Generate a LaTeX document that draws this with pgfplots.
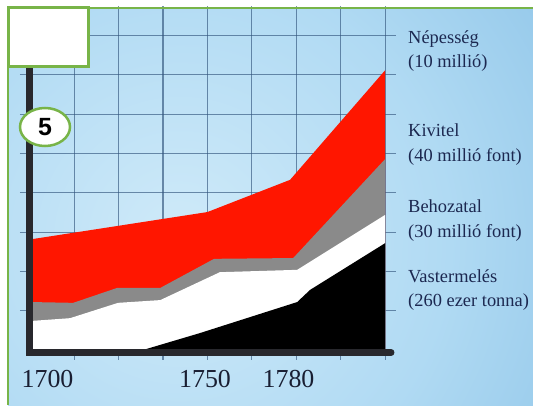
\documentclass[border=0pt]{standalone}
\usepackage{pgfplots}
\pgfplotsset{compat=1.18}
\usepackage{fontspec}
\setmainfont{Liberation Serif}
\newfontfamily\sansfnt{Liberation Sans}
\definecolor{gridc}{RGB}{50,85,125}
\definecolor{axisc}{RGB}{40,40,45}
\definecolor{greenc}{RGB}{120,180,72}
\definecolor{labc}{RGB}{28,40,80}
\definecolor{yearc}{RGB}{25,30,50}
\definecolor{redc}{RGB}{255,22,0}
\definecolor{grayc}{RGB}{138,138,138}
\definecolor{bgA}{RGB}{207,234,249}
\definecolor{bgB}{RGB}{176,218,243}
\definecolor{bgC}{RGB}{112,177,222}
\pgfdeclareradialshading{bgshade}{\pgfpoint{0bp}{0bp}}{color(0bp)=(bgA); color(15bp)=(bgB); color(38bp)=(bgC); color(50bp)=(bgC)}
\begin{document}
\begin{tikzpicture}[x=1bp,y=1bp]
\useasboundingbox (0,0) rectangle (533,405);
\begin{scope}
\clip (8,0) rectangle (533,397);
\shade[shading=bgshade] (180,165) circle (450);
\end{scope}
\begin{axis}[
  at={(29.6bp,55bp)}, anchor=origin,
  x=44.45bp, y=39.3bp,
  xmin=-0.216, xmax=8.25, ymin=-0.254, ymax=8.75,
  xtick={1,...,8}, ytick={1,...,8},
  xticklabels={}, yticklabels={},
  major tick length=0, tick style={draw=none},
  grid=major,
  major grid style={gridc, line width=1.1bp, opacity=0.65},
  axis line style={draw=none},
  clip=false]
\addplot[fill=redc, draw=none] coordinates {(0.05,2.82) (4.0,3.51) (5.86,4.33) (8.0,7.12)} \closedcycle;
\addplot[fill=grayc, draw=none] coordinates {(0.05,1.22) (0.98,1.20) (1.97,1.58) (2.94,1.58) (4.15,2.32) (5.93,2.34) (8.0,4.86)} \closedcycle;
\addplot[fill=white, draw=none] coordinates {(0.05,0.74) (0.91,0.81) (1.99,1.20) (2.94,1.27) (4.28,1.98) (6.02,2.04) (8.0,3.44)} \closedcycle;
\addplot[fill=black, draw=none] coordinates {(0.05,0) (2.55,0) (3.83,0.43) (6.02,1.22) (6.31,1.53) (8.0,2.72)} \closedcycle;
\draw[line width=7bp, color=axisc, line cap=round, line join=miter] (axis cs:0,7.6) -- (axis cs:0,-0.064) -- (axis cs:8.13,-0.064);
\end{axis}
% white box and badge
\draw[line width=3bp, color=greenc, fill=white] (8,339) rectangle (88,397);
\draw[line width=2.5bp, color=greenc, fill=white] (45,278) ellipse (25 and 19);
\node at (45,277.5) {\sansfnt\bfseries\fontsize{25}{25}\selectfont 5};
% frame
\draw[color=greenc, line width=2.5bp] (8,0) -- (8,397) -- (533,397);
% right labels
\begin{scope}[every node/.style={anchor=base west, inner sep=0pt, text=labc, font=\fontsize{18.5}{20}\selectfont}]
\node at (408,362) {Népesség};
\node at (408,338) {(10 millió)};
\node at (408,269) {Kivitel};
\node at (408,244) {(40 millió font)};
\node at (408,193) {Behozatal};
\node at (408,168) {(30 millió font)};
\node at (408,123) {Vastermelés};
\node at (408,99) {(260 ezer tonna)};
\end{scope}
% year labels
\begin{scope}[every node/.style={anchor=base, inner sep=0pt, text=yearc, font=\fontsize{26}{28}\selectfont}]
\node at (47.5,18) {1700};
\node at (205,18) {1750};
\node at (288.5,18) {1780};
\end{scope}
\end{tikzpicture}
\end{document}
